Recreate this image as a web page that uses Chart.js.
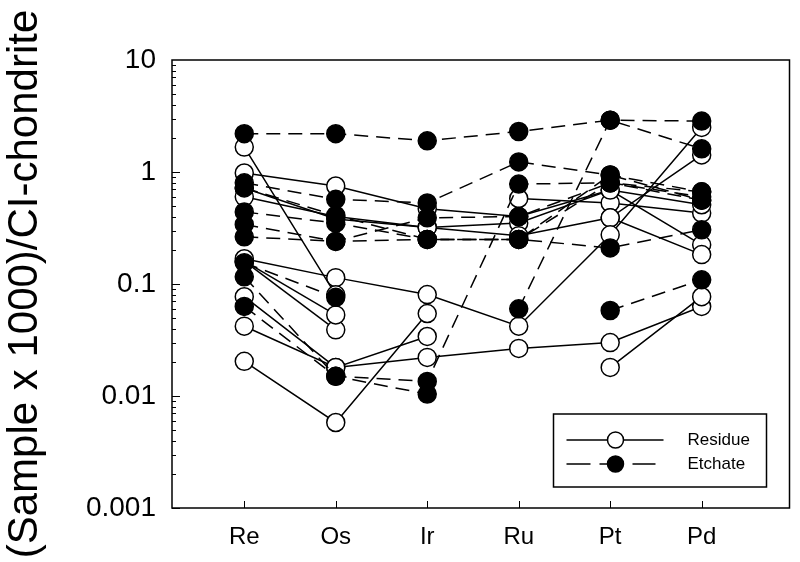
<!DOCTYPE html>
<html>
<head>
<meta charset="utf-8">
<script src="https://cdn.jsdelivr.net/npm/chart.js@4.4.0/dist/chart.umd.min.js"></script>
<style>
    html, body { margin: 0; padding: 0; background: #fff; }
    #wrap { width: 800px; height: 562px; position: relative; }
</style>
</head>
<body>
<div id="wrap"><canvas id="chart"></canvas></div>
<script>
const categories = ['Re', 'Os', 'Ir', 'Ru', 'Pt', 'Pd'];
const yTicks = [0.001, 0.01, 0.1, 1, 10];

// Residue samples (open circles, solid lines), one row per sample, order = categories
const residue = [
    [1.67, 0.08, null, null, 0.018, 0.077],
    [0.168, 0.114, 0.0805, 0.042, 0.275, 2.5],
    [0.98, 0.75, 0.47, 0.40, 0.69, 0.51],
    [0.6, 0.40, 0.32, 0.27, 0.39, 1.42],
    [0.077, 0.018, 0.034, null, 0.39, 0.183],
    [0.042, 0.018, 0.0221, 0.0266, 0.030, 0.063],
    [0.0204, 0.0058, 0.0545, null, null, null],
    [0.16, 0.053, null, null, null, null],
    [0.16, 0.039, null, null, null, null],
    [null, null, null, 0.58, 0.53, 0.43],
    [0.72, 0.38, 0.32, 0.35, 0.69, 0.224]
];

// Etchate samples (filled circles, dashed lines)
const etchate = [
    [2.2, 2.2, 1.9, 2.3, 2.9, 1.61],
    [null, null, null, 0.06, 2.9, 2.85],
    [0.8, 0.57, 0.53, 1.23, 0.94, 0.665],
    [0.44, 0.35, 0.25, 0.25, 0.21, 0.305],
    [0.264, 0.24, 0.39, 0.40, 0.8, 0.6],
    [0.72, 0.41, 0.25, 0.25, 0.94, 0.56],
    [0.155, 0.076, null, null, 0.058, 0.109],
    [0.116, 0.015, 0.0135, 0.78, 0.8, 0.56],
    [0.063, 0.015, 0.0104, null, null, null],
    [0.34, 0.24, 0.25, 0.25, 0.8, 0.665]
];

const FONT = 'Liberation Sans, Arial, sans-serif';

function toPoints(row) {
    return row.map((v, i) => ({ x: i + 1, y: v }));
}

const datasets = [];
etchate.forEach(row => {
    datasets.push({
        data: toPoints(row),
        borderColor: '#000',
        borderWidth: 1.5,
        borderDash: [14, 8],
        pointRadius: 9,
        pointBackgroundColor: '#000',
        pointBorderColor: '#000',
        pointBorderWidth: 1.5,
        spanGaps: false,
        order: 0
    });
});
residue.forEach(row => {
    datasets.push({
        data: toPoints(row),
        borderColor: '#000',
        borderWidth: 1.5,
        pointRadius: 9,
        pointBackgroundColor: '#fff',
        pointBorderColor: '#000',
        pointBorderWidth: 1.5,
        spanGaps: false,
        order: 1
    });
});

// Frame and inward tick marks
const frameTicks = {
    id: 'frameTicks',
    beforeDatasetsDraw(chart) {
        const { ctx, chartArea: a, scales } = chart;
        ctx.save();
        ctx.strokeStyle = '#000';
        ctx.lineWidth = 1.5;
        ctx.strokeRect(a.left, a.top, a.right - a.left, a.bottom - a.top);
        ctx.lineWidth = 1;
        ctx.beginPath();
        for (let d = 0.001; d < 10; d *= 10) {
            for (let m = 1; m < 10; m++) {
                const y = Math.round(scales.y.getPixelForValue(d * m)) + 0.5;
                const len = m === 1 ? 8 : 4;
                ctx.moveTo(a.left, y);
                ctx.lineTo(a.left + len, y);
            }
        }
        categories.forEach((c, i) => {
            const x = Math.round(scales.x.getPixelForValue(i + 1)) + 0.5;
            ctx.moveTo(x, a.bottom);
            ctx.lineTo(x, a.bottom - 7);
        });
        ctx.stroke();
        ctx.restore();
    }
};

// Legend box in the lower right corner of the plot
const legendBox = {
    id: 'legendBox',
    afterDraw(chart) {
        const { ctx, chartArea: a } = chart;
        const x = a.right - 236, y = a.bottom - 94, w = 213, h = 73;
        ctx.save();
        ctx.fillStyle = '#fff';
        ctx.fillRect(x, y, w, h);
        ctx.strokeStyle = '#000';
        ctx.lineWidth = 1.5;
        ctx.strokeRect(x, y, w, h);

        const y1 = y + 26, y2 = y + 50, cx = x + 62;
        ctx.lineWidth = 1.5;
        ctx.beginPath();
        ctx.moveTo(x + 13, y1);
        ctx.lineTo(x + 110, y1);
        ctx.stroke();
        ctx.setLineDash([24, 9]);
        ctx.beginPath();
        ctx.moveTo(x + 13, y2);
        ctx.lineTo(x + 102, y2);
        ctx.stroke();
        ctx.setLineDash([]);

        ctx.beginPath();
        ctx.arc(cx, y1, 8, 0, Math.PI * 2);
        ctx.fillStyle = '#fff';
        ctx.fill();
        ctx.stroke();
        ctx.beginPath();
        ctx.arc(cx, y2, 8, 0, Math.PI * 2);
        ctx.fillStyle = '#000';
        ctx.fill();
        ctx.stroke();

        ctx.fillStyle = '#000';
        ctx.font = '17px ' + FONT;
        ctx.textBaseline = 'middle';
        ctx.fillText('Residue', x + 134, y1);
        ctx.fillText('Etchate', x + 134, y2);
        ctx.restore();
    }
};

const ctx = document.getElementById('chart').getContext('2d');
const chart = new Chart(ctx, {
    type: 'line',
    data: { datasets: datasets },
    options: {
        responsive: true,
        maintainAspectRatio: false,
        animation: false,
        layout: { padding: { top: 60, right: 6, bottom: 0, left: 0 } },
        plugins: {
            legend: { display: false },
            tooltip: { enabled: false }
        },
        scales: {
            x: {
                type: 'linear',
                min: 0.21,
                max: 6.96,
                afterBuildTicks: s => { s.ticks = categories.map((c, i) => ({ value: i + 1 })); },
                afterFit: s => { s.height = 54; },
                grid: { display: false, drawTicks: false },
                border: { display: false },
                ticks: {
                    callback: v => categories[v - 1],
                    font: { size: 24, family: FONT },
                    color: '#000',
                    padding: 15,
                    maxRotation: 0,
                    autoSkip: false
                }
            },
            y: {
                type: 'logarithmic',
                min: 0.001,
                max: 10,
                afterBuildTicks: s => { s.ticks = yTicks.map(v => ({ value: v })); },
                afterFit: s => { s.width = 172; },
                grid: { display: false, drawTicks: false },
                border: { display: false },
                ticks: {
                    callback: v => String(v),
                    font: { size: 28, family: FONT },
                    color: '#000',
                    padding: 16,
                    autoSkip: false
                },
                title: {
                    display: true,
                    text: '(Sample x 1000)/CI-chondrite',
                    font: { size: 42, family: FONT },
                    color: '#000',
                    padding: { top: 0, bottom: 0 }
                }
            }
        }
    },
    plugins: [frameTicks, legendBox]
});
</script>
</body>
</html>
